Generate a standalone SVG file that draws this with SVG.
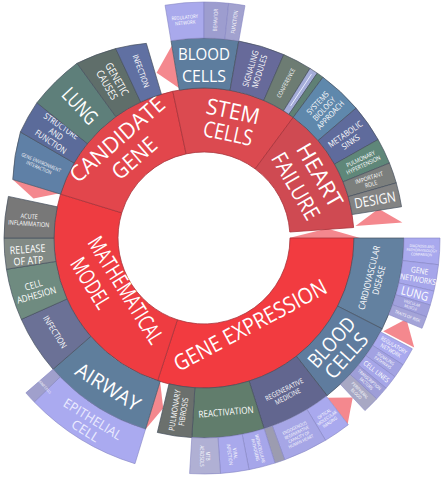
<svg xmlns="http://www.w3.org/2000/svg" width="444" height="479" viewBox="0 0 444 479">
<style>
text{font-family:"Open Sans","Noto Sans","DejaVu Sans",sans-serif;fill:#fff;text-anchor:middle}
.r1{stroke:#a8343b;stroke-width:.8}
.r2{stroke:#46505e;stroke-width:.7}
.r3{stroke:#8585c2;stroke-width:.6}
.pk{fill:#f4888e}
.e{fill:#ececff}
</style>
<rect width="444" height="479" fill="#fff"/>
<g id="pink">
<polygon class="pk" points="289,238 360,238 327,228.5"/>
<polygon class="pk" points="355.5,226.1 402.4,222.4 378.6,208.8"/>
<polygon class="pk" points="178.9,88.1 171.8,45.7 156.6,72.7"/>
<polygon class="pk" points="58.6,193.6 12.7,179.5 33.5,198.6"/>
<polygon class="pk" points="160.1,381.5 145.5,429.3 163.2,408.2"/>
<polygon class="pk" points="383.2,331.3 414.2,347.4 406.4,319"/>
<polygon class="pk" points="327.5,397.8 347.7,423.9 352.7,397.4"/>
</g>
<g id="gene-expression">
<path class="r1" fill="#f23b40" d="M290,238 L354,238 A150,150 0 0 1 157.65,380.67 L177.43,319.79 A86,86 0 0 0 290,238Z"/>
<text font-size="22" textLength="170" lengthAdjust="spacingAndGlyphs" transform="translate(250,325) rotate(-28)" y="8">GENE EXPRESSION</text>
</g>
<g id="mathematical-model">
<path class="r1" fill="#ee3c41" d="M177.43,319.79 L157.65,380.67 A150,150 0 0 1 60.55,194.14 L121.76,212.85 A86,86 0 0 0 177.43,319.79Z"/>
<text font-size="22" textLength="122" lengthAdjust="spacingAndGlyphs" transform="translate(126,290) rotate(58)" y="8">MATHEMATICAL</text>
<text font-size="22" textLength="56" lengthAdjust="spacingAndGlyphs" transform="translate(91,283) rotate(58)" y="8">MODEL</text>
</g>
<g id="candidate-gene">
<path class="r1" fill="#e2464c" d="M121.76,212.85 L60.55,194.14 A150,150 0 0 1 172.81,91.28 L186.12,153.88 A86,86 0 0 0 121.76,212.85Z"/>
<text font-size="22" textLength="118" lengthAdjust="spacingAndGlyphs" transform="translate(117,139) rotate(-41)" y="8">CANDIDATE</text>
<text font-size="22" textLength="52" lengthAdjust="spacingAndGlyphs" transform="translate(134,158) rotate(-41)" y="8">GENE</text>
</g>
<g id="stem-cells">
<path class="r1" fill="#db4a50" d="M186.12,153.88 L172.81,91.28 A150,150 0 0 1 293.22,117.41 L255.15,168.86 A86,86 0 0 0 186.12,153.88Z"/>
<text font-size="22" textLength="54" lengthAdjust="spacingAndGlyphs" transform="translate(233,111) rotate(12)" y="8">STEM</text>
<text font-size="22" textLength="50" lengthAdjust="spacingAndGlyphs" transform="translate(228,133) rotate(12)" y="8">CELLS</text>
</g>
<g id="heart-failure">
<path class="r1" fill="#cf4a52" d="M255.15,168.86 L293.22,117.41 A150,150 0 0 1 353.64,227.53 L289.79,232 A86,86 0 0 0 255.15,168.86Z"/>
<text font-size="22" textLength="70" lengthAdjust="spacingAndGlyphs" transform="translate(320,175) rotate(60)" y="8">HEART</text>
<text font-size="22" textLength="74" lengthAdjust="spacingAndGlyphs" transform="translate(296,186) rotate(60)" y="8">FAILURE</text>
</g>
<g id="cardiovascular-disease">
<path class="r2" fill="#6381a0" d="M354,238 L404,238 A200,200 0 0 1 382.2,328.8 L337.65,306.1 A150,150 0 0 0 354,238Z"/>
<text font-size="9" transform="translate(374,279) rotate(-76) scale(.85,1)"><tspan x="0" y="-1.8">CARDIOVASCULAR</tspan><tspan x="0" y="8.1">DISEASE</tspan></text>
</g>
<g id="blood-cells-2">
<path class="r2" fill="#5f7c9e" d="M337.65,306.1 L382.2,328.8 A200,200 0 0 1 327.14,395.6 L296.36,356.2 A150,150 0 0 0 337.65,306.1Z"/>
<text font-size="20" textLength="60" lengthAdjust="spacingAndGlyphs" transform="translate(331.6,342.3) rotate(-48)" y="7">BLOOD</text>
<text font-size="20" textLength="54" lengthAdjust="spacingAndGlyphs" transform="translate(346.4,355.7) rotate(-48)" y="7">CELLS</text>
</g>
<g id="regenerative-medicine">
<path class="r2" fill="#62668f" d="M296.36,356.2 L327.14,395.6 A200,200 0 0 1 264.14,428.74 L249.11,381.06 A150,150 0 0 0 296.36,356.2Z"/>
<text font-size="7" transform="translate(286,393) rotate(-27) scale(.85,1)"><tspan x="0" y="-1.4">REGENERATIVE</tspan><tspan x="0" y="6.3">MEDICINE</tspan></text>
</g>
<g id="reactivation">
<path class="r2" fill="#617d6c" d="M249.11,381.06 L264.14,428.74 A200,200 0 0 1 191.8,437.62 L194.85,387.72 A150,150 0 0 0 249.11,381.06Z"/>
<text font-size="9.5" transform="translate(226,412) rotate(-5) scale(.85,1)" y="3.3">REACTIVATION</text>
</g>
<g id="pulmonary-fibrosis">
<path class="r2" fill="#6b706d" d="M194.85,387.72 L191.8,437.62 A200,200 0 0 1 157.32,432.48 L168.99,383.86 A150,150 0 0 0 194.85,387.72Z"/>
<text font-size="8" transform="translate(179,411) rotate(-81) scale(.85,1)"><tspan x="0" y="-1.6">PULMONARY</tspan><tspan x="0" y="7.2">FIBROSIS</tspan></text>
</g>
<g id="airway">
<path class="r2" fill="#5f7e9c" d="M160.14,381.45 L145.52,429.26 A200,200 0 0 1 53.06,369.22 L90.79,336.42 A150,150 0 0 0 160.14,381.45Z"/>
<text font-size="20" textLength="72" lengthAdjust="spacingAndGlyphs" transform="translate(108,387) rotate(32)" y="7">AIRWAY</text>
</g>
<g id="infection-left">
<path class="r2" fill="#6b7196" d="M90.79,336.42 L53.06,369.22 A200,200 0 0 1 21.3,319.34 L66.97,299.01 A150,150 0 0 0 90.79,336.42Z"/>
<text font-size="8.5" transform="translate(55,332) rotate(58) scale(.85,1)" y="3">INFECTION</text>
</g>
<g id="cell-adhesion">
<path class="r2" fill="#6f8b80" d="M66.97,299.01 L21.3,319.34 A200,200 0 0 1 6.46,269.28 L55.84,261.46 A150,150 0 0 0 66.97,299.01Z"/>
<text font-size="9.5" transform="translate(35,290) rotate(-16) scale(.85,1)"><tspan x="0" y="-1.9">CELL</tspan><tspan x="0" y="8.6">ADHESION</tspan></text>
</g>
<g id="release-of-atp">
<path class="r2" fill="#828a85" d="M55.84,261.46 L6.46,269.28 A200,200 0 0 1 4,238 L54,238 A150,150 0 0 0 55.84,261.46Z"/>
<text font-size="10.5" transform="translate(28,255) rotate(-4) scale(.85,1)"><tspan x="0" y="-2.1">RELEASE</tspan><tspan x="0" y="9.4">OF ATP</tspan></text>
</g>
<g id="acute-inflammation">
<path class="r2" fill="#787878" d="M54,238 L4,238 A200,200 0 0 1 8.38,196.42 L57.28,206.81 A150,150 0 0 0 54,238Z"/>
<text font-size="6.5" transform="translate(29,220) rotate(4) scale(.85,1)"><tspan x="0" y="-1.3">ACUTE</tspan><tspan x="0" y="5.9">INFLAMMATION</tspan></text>
</g>
<g id="gene-environment-interaction">
<path class="r2" fill="#5f80a6" d="M60.55,194.14 L12.74,179.52 A205,205 0 0 1 20.4,132 L74.1,163 A150,150 0 0 0 60.55,194.14Z"/>
<text font-size="5" transform="translate(40,165) rotate(23) scale(.85,1)"><tspan x="0" y="-1">GENE ENVIRONMENT</tspan><tspan x="0" y="4.5">INTERACTION</tspan></text>
</g>
<g id="structure-and-function">
<path class="r2" fill="#5b6b9a" d="M74.1,163 L20.4,132 A210,210 0 0 1 36.92,102.7 L87.43,143.6 A150,150 0 0 0 74.1,163Z"/>
<text font-size="8.5" transform="translate(56,134) rotate(34) scale(.85,1)"><tspan x="0" y="-6.4">STRUCTURE</tspan><tspan x="0" y="3">AND</tspan><tspan x="0" y="12.3">FUNCTION</tspan></text>
</g>
<g id="lung">
<path class="r2" fill="#5e7f7a" d="M87.43,143.6 L36.92,102.7 A215,215 0 0 1 77.04,63.26 L115.83,116.65 A150,150 0 0 0 87.43,143.6Z"/>
<text font-size="20" textLength="42" lengthAdjust="spacingAndGlyphs" transform="translate(80,106) rotate(47)" y="7">LUNG</text>
</g>
<g id="genetic-causes">
<path class="r2" fill="#5f6e6a" d="M115.83,116.65 L77.04,63.26 A212,212 0 0 1 115.68,48.58 L140.61,102.05 A150,150 0 0 0 115.83,116.65Z"/>
<text font-size="10.5" transform="translate(112,82) rotate(60) scale(.85,1)"><tspan x="0" y="-2.1">GENETIC</tspan><tspan x="0" y="9.5">CAUSES</tspan></text>
</g>
<g id="infection-top">
<path class="r2" fill="#6070a2" d="M140.61,102.05 L115.68,48.58 A205,205 0 0 1 146.35,43.36 L161.4,94.18 A150,150 0 0 0 140.61,102.05Z"/>
<text font-size="8" transform="translate(141,71) rotate(70) scale(.85,1)" y="2.8">INFECTION</text>
</g>
<g id="blood-cells-1">
<path class="r2" fill="#5d7d9e" d="M179.25,90.05 L171,40.74 A200,200 0 0 1 238.72,41.04 L230.04,90.28 A150,150 0 0 0 179.25,90.05Z"/>
<text font-size="16" textLength="52" lengthAdjust="spacingAndGlyphs" x="204" y="60">BLOOD</text>
<text font-size="16" textLength="44" lengthAdjust="spacingAndGlyphs" x="204" y="82">CELLS</text>
</g>
<g id="signaling-modules">
<path class="r2" fill="#676a9a" d="M230.04,90.28 L238.72,41.04 A200,200 0 0 1 283.74,54.58 L263.81,100.43 A150,150 0 0 0 230.04,90.28Z"/>
<text font-size="8.5" transform="translate(255,70) rotate(-73) scale(.85,1)"><tspan x="0" y="-1.7">SIGNALING</tspan><tspan x="0" y="7.7">MODULES</tspan></text>
</g>
<g id="conference">
<path class="r2" fill="#6d7c73" d="M263.81,100.43 L283.74,54.58 A200,200 0 0 1 309.98,68.4 L283.49,110.8 A150,150 0 0 0 263.81,100.43Z"/>
<text font-size="6" transform="translate(286,83) rotate(-62) scale(.85,1)" y="2.1">CONFERENCE</text>
</g>
<g id="strip-lavender">
<path class="r2" fill="#a4acd8" d="M283.49,110.8 L309.98,68.4 A200,200 0 0 1 317.28,73.18 L288.96,114.38 A150,150 0 0 0 283.49,110.8Z"/>
<line x1="290.6" y1="105.9" x2="311.5" y2="74.1" stroke="#e8ecff" stroke-width="1"/>
</g>
<g id="strip-green">
<path class="r2" fill="#5f8075" d="M288.96,114.38 L317.28,73.18 A200,200 0 0 1 322.96,77.22 L293.22,117.41 A150,150 0 0 0 288.96,114.38Z"/>
</g>
<g id="systems-biology-approach">
<path class="r2" fill="#5f88ac" d="M293.22,117.41 L322.96,77.22 A200,200 0 0 1 356.08,108.12 L318.06,140.59 A150,150 0 0 0 293.22,117.41Z"/>
<text font-size="8" transform="translate(324,109) rotate(-47) scale(.85,1)"><tspan x="0" y="-6">SYSTEMS</tspan><tspan x="0" y="2.8">BIOLOGY</tspan><tspan x="0" y="11.6">APPROACH</tspan></text>
</g>
<g id="metabolic-sinks">
<path class="r2" fill="#5f6b9c" d="M318.06,140.59 L356.08,108.12 A200,200 0 0 1 378.08,139.52 L334.56,164.14 A150,150 0 0 0 318.06,140.59Z"/>
<text font-size="8.5" transform="translate(348,138) rotate(-35) scale(.85,1)"><tspan x="0" y="-1.7">METABOLIC</tspan><tspan x="0" y="7.7">SINKS</tspan></text>
</g>
<g id="pulmonary-hypertension">
<path class="r2" fill="#5f8779" d="M334.56,164.14 L378.08,139.52 A200,200 0 0 1 389.44,163.08 L343.08,181.81 A150,150 0 0 0 334.56,164.14Z"/>
<text font-size="6" transform="translate(362,162) rotate(-25) scale(.85,1)"><tspan x="0" y="-1.2">PULMONARY</tspan><tspan x="0" y="5.4">HYPERTENSION</tspan></text>
</g>
<g id="important-role">
<path class="r2" fill="#7c7f7d" d="M343.08,181.81 L389.44,163.08 A200,200 0 0 1 396.26,182.88 L348.2,196.66 A150,150 0 0 0 343.08,181.81Z"/>
<text font-size="6" transform="translate(370,181) rotate(-18) scale(.85,1)"><tspan x="0" y="-1.2">IMPORTANT</tspan><tspan x="0" y="5.4">ROLE</tspan></text>
</g>
<g id="design">
<path class="r2" fill="#838383" d="M348.2,196.66 L396.26,182.88 A200,200 0 0 1 401.54,206.72 L352.16,214.54 A150,150 0 0 0 348.2,196.66Z"/>
<text font-size="14" textLength="42" lengthAdjust="spacingAndGlyphs" transform="translate(375,200) rotate(-10)" y="5">DESIGN</text>
</g>
<g id="ring3-top">
<path class="r3" fill="#a9a9ec" d="M171,40.74 L165.06,5.23 A236,236 0 0 1 204,2 L204,38 A200,200 0 0 0 171,40.74Z"/>
<path class="r3" fill="#9d9dcf" d="M204,38 L204,2 A236,236 0 0 1 228.66,3.3 L224.9,39.1 A200,200 0 0 0 204,38Z"/>
<path class="r3" fill="#a2a2cf" d="M224.9,39.1 L228.66,3.3 A236,236 0 0 1 244.97,5.59 L238.72,41.04 A200,200 0 0 0 224.9,39.1Z"/>
<text font-size="5" transform="translate(185,20) rotate(-5) scale(.85,1)"><tspan x="0" y="-1">REGULATORY</tspan><tspan x="0" y="4.5">NETWORK</tspan></text>
<text font-size="5.5" transform="translate(215.5,20) rotate(-87) scale(.85,1)" y="1.9">BEHAVIOR</text>
<text font-size="5.5" transform="translate(234.5,22) rotate(-82) scale(.85,1)" y="1.9">FUNCTION</text>
</g>
<g id="ring3-cardio">
<path class="r3" fill="#a9a9ee" d="M404,238 L440,238 A236,236 0 0 1 438.49,264.72 L402.72,260.64 A200,200 0 0 0 404,238Z"/>
<path class="r3" fill="#a6a6ea" d="M402.72,260.64 L438.49,264.72 A236,236 0 0 1 433.96,291.1 L398.88,283 A200,200 0 0 0 402.72,260.64Z"/>
<path class="r3" fill="#a9a9ee" d="M398.88,283 L433.96,291.1 A236,236 0 0 1 430.28,305.02 L395.76,294.8 A200,200 0 0 0 398.88,283Z"/>
<path class="r3" fill="#a0a0dc" d="M395.76,294.8 L430.28,305.02 A236,236 0 0 1 426.45,316.78 L392.52,304.76 A200,200 0 0 0 395.76,294.8Z"/>
<path class="r3" fill="#a4a4d8" d="M392.52,304.76 L426.45,316.78 A236,236 0 0 1 422.04,328.32 L388.78,314.54 A200,200 0 0 0 392.52,304.76Z"/>
<text font-size="3.8" transform="translate(421.7,250.4) rotate(3) scale(.85,1)"><tspan x="0" y="-2.8">DIAGNOSIS AND</tspan><tspan x="0" y="1.3">PATHOPHYSIOLOGY</tspan><tspan x="0" y="5.5">COMPARISON</tspan></text>
<text font-size="8" transform="translate(418.9,275) rotate(10) scale(.85,1)"><tspan x="0" y="-1.6">GENE</tspan><tspan x="0" y="7.2">NETWORKS</tspan></text>
<text font-size="12" textLength="28" lengthAdjust="spacingAndGlyphs" transform="translate(414.8,293.5) rotate(15)" y="4.2">LUNG</text>
<text font-size="4" transform="translate(411.3,305.4) rotate(18) scale(.85,1)"><tspan x="0" y="-0.8">VASCULAR</tspan><tspan x="0" y="3.6">MUSCLE</tspan></text>
<text font-size="4.5" transform="translate(407.5,316.1) rotate(21) scale(.85,1)" y="1.6">TRAITS OF RISK</text>
</g>
<g id="ring3-blood">
<path class="r3" fill="#a9a9ee" d="M380.58,331.9 L412.36,348.8 A236,236 0 0 1 403.04,364.8 L372.68,345.46 A200,200 0 0 0 380.58,331.9Z"/>
<path class="r3" fill="#a2a2e2" d="M372.68,345.46 L403.04,364.8 A236,236 0 0 1 394.92,376.72 L365.8,355.56 A200,200 0 0 0 372.68,345.46Z"/>
<path class="r3" fill="#a6a6e8" d="M365.8,355.56 L394.92,376.72 A236,236 0 0 1 386.1,388.12 L358.32,365.22 A200,200 0 0 0 365.8,355.56Z"/>
<path class="r3" fill="#9e9ed8" d="M358.32,365.22 L386.1,388.12 A236,236 0 0 1 376.61,398.95 L350.28,374.4 A200,200 0 0 0 358.32,365.22Z"/>
<path class="r3" fill="#a8a8c4" d="M350.28,374.4 L376.61,398.95 A236,236 0 0 1 364.95,410.61 L340.4,384.28 A200,200 0 0 0 350.28,374.4Z"/>
<text font-size="5.5" transform="translate(392.3,347.8) rotate(30) scale(.85,1)"><tspan x="0" y="-1.1">REGULATORY</tspan><tspan x="0" y="5">NETWORK</tspan></text>
<text font-size="4.5" transform="translate(384.2,360.7) rotate(34) scale(.85,1)"><tspan x="0" y="-0.9">SIGNALING</tspan><tspan x="0" y="4">PATHWAYS</tspan></text>
<text font-size="7" transform="translate(376.4,371.5) rotate(38) scale(.85,1)" y="2.5">CELL LINES</text>
<text font-size="4.5" transform="translate(367.9,381.7) rotate(41) scale(.85,1)"><tspan x="0" y="-0.9">TRANSCRIPTION</tspan><tspan x="0" y="4">FACTORS</tspan></text>
<text font-size="4.5" transform="translate(358.1,392.1) rotate(45) scale(.85,1)"><tspan x="0" y="-0.9">PERIPHERAL</tspan><tspan x="0" y="4">BLOOD</tspan></text>
</g>
<g id="ring3-regen">
<path class="r3" fill="#a9a9ee" d="M326.3,396.24 L348.31,424.72 A236,236 0 0 1 325.54,440.3 L307,409.44 A200,200 0 0 0 326.3,396.24Z"/>
<path class="r3" fill="#a6a6e6" d="M307,409.44 L325.54,440.3 A236,236 0 0 1 284.71,459.77 L272.4,425.94 A200,200 0 0 0 307,409.44Z"/>
<path class="r3" fill="#9c9cb0" d="M272.4,425.94 L284.71,459.77 A236,236 0 0 1 274.97,463.07 L264.14,428.74 A200,200 0 0 0 272.4,425.94Z"/>
<text font-size="4.5" transform="translate(327,418) rotate(-35) scale(.85,1)"><tspan x="0" y="-3.4">OPTICAL</tspan><tspan x="0" y="1.6">MOLECULAR</tspan><tspan x="0" y="6.6">IMAGING</tspan></text>
<text font-size="4.5" transform="translate(297.8,434.8) rotate(-25.5) scale(.85,1)"><tspan x="0" y="-5.9">ENDOGENOUS</tspan><tspan x="0" y="-0.9">REGENERATIVE</tspan><tspan x="0" y="4.1">CAPACITY OF</tspan><tspan x="0" y="9">HUMAN HEART</tspan></text>
</g>
<g id="ring3-react">
<path class="r3" fill="#a6a6ea" d="M264.14,428.74 L274.97,463.07 A236,236 0 0 1 249.03,469.66 L242.16,434.32 A200,200 0 0 0 264.14,428.74Z"/>
<path class="r3" fill="#a9a9ec" d="M242.16,434.32 L249.03,469.66 A236,236 0 0 1 220.47,473.43 L217.96,437.52 A200,200 0 0 0 242.16,434.32Z"/>
<path class="r3" fill="#b0b0d4" d="M217.96,437.52 L220.47,473.43 A236,236 0 0 1 189.6,473.55 L191.8,437.62 A200,200 0 0 0 217.96,437.52Z"/>
<text font-size="4.5" transform="translate(257.7,449.3) rotate(76) scale(.85,1)"><tspan x="0" y="-0.9">INTRACELLULAR</tspan><tspan x="0" y="4">PATHOGENS</tspan></text>
<text font-size="5" transform="translate(232.4,454) rotate(82.5) scale(.85,1)"><tspan x="0" y="-1">VIRAL</tspan><tspan x="0" y="4.5">INFECTION</tspan></text>
<text font-size="5" transform="translate(205,456) rotate(90) scale(.85,1)"><tspan x="0" y="-1">MTB</tspan><tspan x="0" y="4.5">AEROSOLS</tspan></text>
</g>
<g id="ring3-airway">
<path class="r3" fill="#aaaaf0" d="M145.52,429.26 L134.99,463.69 A236,236 0 0 1 34.25,401.95 L60.14,376.94 A200,200 0 0 0 145.52,429.26Z"/>
<path class="r3" fill="#a0a0cc" d="M60.14,376.94 L34.25,401.95 A236,236 0 0 1 25.89,392.84 L53.06,369.22 A200,200 0 0 0 60.14,376.94Z"/>
<text class="e" font-size="13" textLength="66" lengthAdjust="spacingAndGlyphs" transform="translate(92.7,419.1) rotate(32)" y="4.5">EPITHELIAL</text>
<text class="e" font-size="13" textLength="30" lengthAdjust="spacingAndGlyphs" transform="translate(85.3,430.9) rotate(32)" y="4.5">CELL</text>
<text font-size="3.5" transform="translate(43.3,385.3) rotate(47.5) scale(.85,1)" y="1.2">IMMUNE CELLS</text>
</g>
</svg>
